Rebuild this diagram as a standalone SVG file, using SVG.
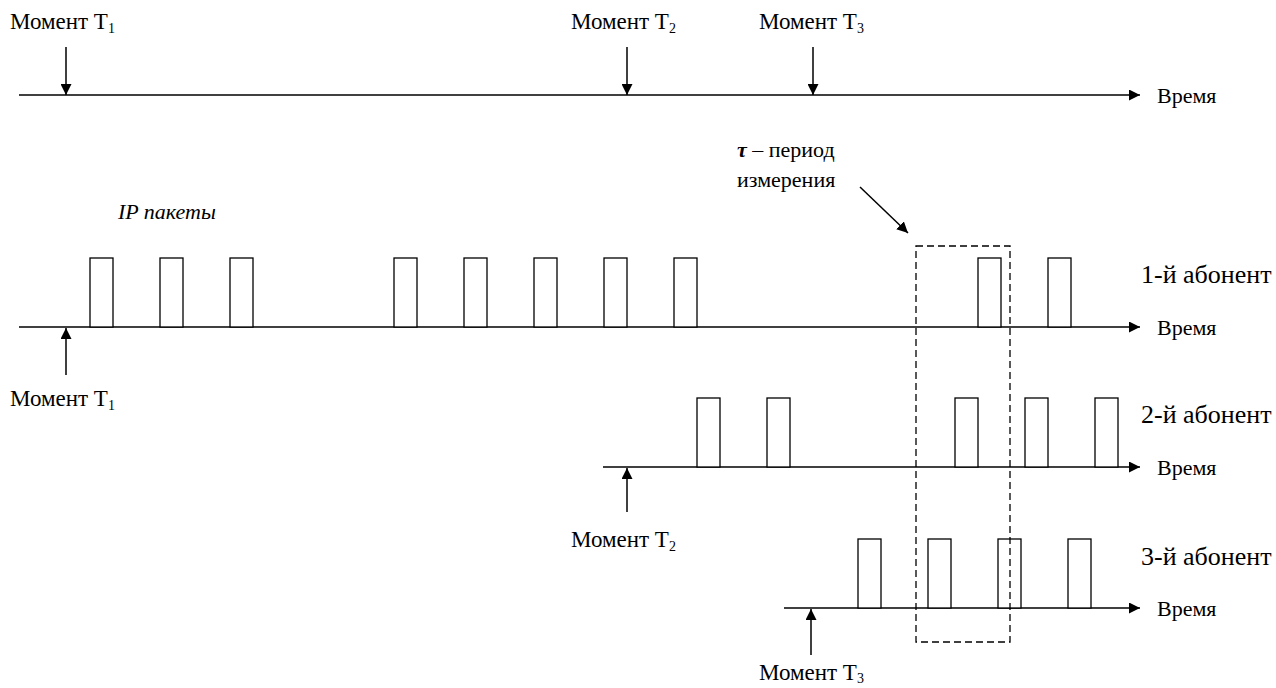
<svg xmlns="http://www.w3.org/2000/svg" width="1276" height="688" viewBox="0 0 1276 688">
<style>
text{font-family:'Liberation Serif','Times New Roman',serif;font-size:22px;fill:#000}
.mo{font-size:23px}
.ab{font-size:26px}
.ax{stroke:#000;stroke-width:1.5;fill:none}
.pk{stroke:#000;stroke-width:1.3;fill:#fff}
.sub{font-size:14px}
</style>
<defs>
<marker id="ah" viewBox="0 0 10 10" refX="10" refY="5" markerWidth="11" markerHeight="11" markerUnits="userSpaceOnUse" orient="auto"><path d="M0,0 L10,5 L0,10 z" fill="#000"/></marker>
</defs>
<rect width="1276" height="688" fill="#fff"/>
<g id="connectors">
<line class="ax" x1="19" y1="95" x2="1140" y2="95" marker-end="url(#ah)"/>
<line class="ax" x1="66" y1="47" x2="66" y2="95" marker-end="url(#ah)"/>
<line class="ax" x1="627" y1="47" x2="627" y2="95" marker-end="url(#ah)"/>
<line class="ax" x1="813" y1="47" x2="813" y2="95" marker-end="url(#ah)"/>
<line class="ax" x1="19" y1="327" x2="1140" y2="327" marker-end="url(#ah)"/>
<line class="ax" x1="66" y1="375" x2="66" y2="328" marker-end="url(#ah)"/>
<line class="ax" x1="603" y1="467" x2="1140" y2="467" marker-end="url(#ah)"/>
<line class="ax" x1="627" y1="512" x2="627" y2="468" marker-end="url(#ah)"/>
<line class="ax" x1="784" y1="608" x2="1140" y2="608" marker-end="url(#ah)"/>
<line class="ax" x1="811" y1="655" x2="811" y2="609" marker-end="url(#ah)"/>
<line class="ax" x1="860" y1="187" x2="908" y2="233" marker-end="url(#ah)"/>
</g>
<g id="packets1">
<rect class="pk" x="90" y="258" width="23" height="69"/>
<rect class="pk" x="160" y="258" width="23" height="69"/>
<rect class="pk" x="230" y="258" width="23" height="69"/>
<rect class="pk" x="394" y="258" width="23" height="69"/>
<rect class="pk" x="464" y="258" width="23" height="69"/>
<rect class="pk" x="534" y="258" width="23" height="69"/>
<rect class="pk" x="604" y="258" width="23" height="69"/>
<rect class="pk" x="674" y="258" width="23" height="69"/>
<rect class="pk" x="978" y="258" width="23" height="69"/>
<rect class="pk" x="1048" y="258" width="23" height="69"/>
</g>
<g id="packets2">
<rect class="pk" x="697" y="398" width="23" height="69"/>
<rect class="pk" x="767" y="398" width="23" height="69"/>
<rect class="pk" x="955" y="398" width="23" height="69"/>
<rect class="pk" x="1025" y="398" width="23" height="69"/>
<rect class="pk" x="1095" y="398" width="23" height="69"/>
</g>
<g id="packets3">
<rect class="pk" x="858" y="539" width="23" height="69"/>
<rect class="pk" x="928" y="539" width="23" height="69"/>
<rect class="pk" x="998" y="539" width="23" height="69"/>
<rect class="pk" x="1068" y="539" width="23" height="69"/>
</g>
<g id="period">
<rect x="916" y="246" width="94" height="396" fill="none" stroke="#000" stroke-width="1.3" stroke-dasharray="7,4"/>
</g>
<g id="labels">
<text class="mo" x="10" y="29">Момент T<tspan class="sub" dy="4">1</tspan></text>
<text class="mo" x="571" y="29">Момент T<tspan class="sub" dy="4">2</tspan></text>
<text class="mo" x="759" y="29">Момент T<tspan class="sub" dy="4">3</tspan></text>
<text x="1157" y="103">Время</text>
<text x="737" y="157"><tspan font-weight="bold" font-style="italic">τ</tspan> – период</text>
<text x="737" y="187">измерения</text>
<text x="118" y="219" font-style="italic">IP пакеты</text>
<text class="ab" x="1141" y="283">1-й абонент</text>
<text x="1157" y="335">Время</text>
<text class="mo" x="10" y="406">Момент T<tspan class="sub" dy="4">1</tspan></text>
<text class="ab" x="1141" y="423">2-й абонент</text>
<text x="1157" y="475">Время</text>
<text class="mo" x="571" y="547">Момент T<tspan class="sub" dy="4">2</tspan></text>
<text class="ab" x="1141" y="565">3-й абонент</text>
<text x="1157" y="616">Время</text>
<text class="mo" x="759" y="680">Момент T<tspan class="sub" dy="3">3</tspan></text>
</g>
</svg>
